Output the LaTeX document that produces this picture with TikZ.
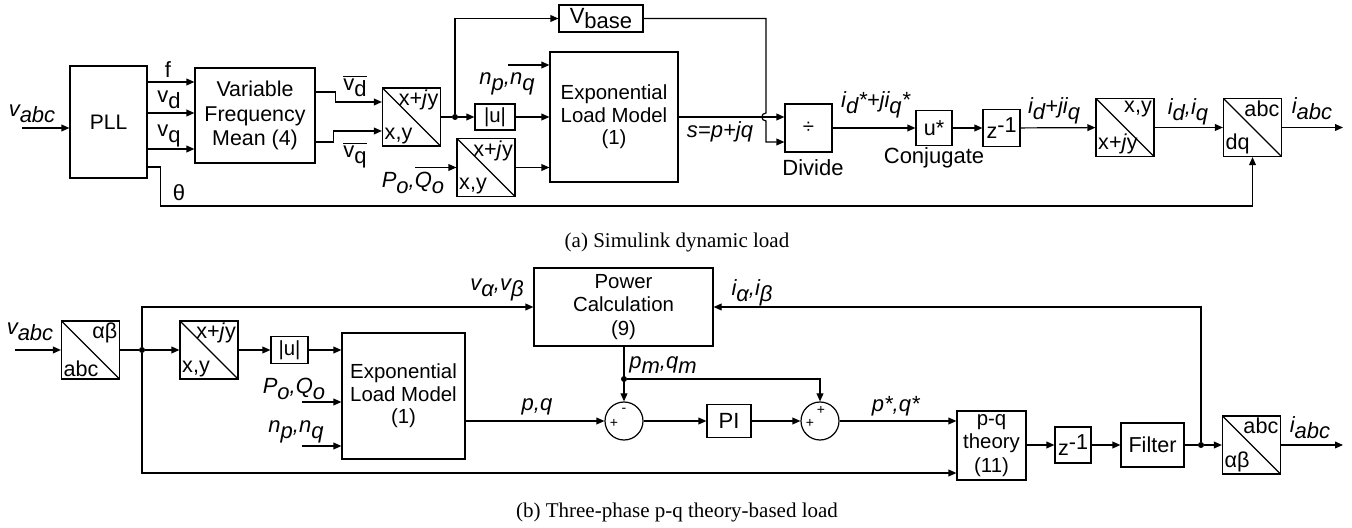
\documentclass[tikz,border=0pt]{standalone}
\usepackage{fontspec}
\setmainfont{Liberation Sans}
\newfontfamily\capfont{Liberation Serif}
\usetikzlibrary{arrows.meta,calc,positioning}
\newcommand{\sbs}[1]{\raisebox{-0.5ex}{#1}}
\newcommand{\sps}[1]{\raisebox{0.6ex}{#1}}
\tikzset{
  wire/.style  = {line width=0.6pt},
  sig/.style   = {line width=0.6pt, -{Triangle[length=4pt,width=3.4pt]}},
  blk/.style   = {draw, line width=0.6pt, rectangle, align=center, inner sep=1pt,
                  font=\fontsize{10.2}{11.2}\selectfont},
  clbl/.style  = {font=\fontsize{10.8}{11}\selectfont, inner sep=1.2pt},
  conv/.style 2 args = {draw, line width=0.6pt, rectangle, minimum size=29pt, inner sep=0pt,
                  path picture={\draw[line width=0.6pt] (path picture bounding box.north west)
                                 -- (path picture bounding box.south east);},
                  label={[clbl,anchor=north east]north east:#1},
                  label={[clbl,anchor=south west]south west:#2}},
  sumc/.style  = {draw, circle, line width=0.6pt, minimum size=19pt, inner sep=0pt},
  jdot/.style  = {circle, fill, inner sep=0pt, minimum size=3pt},
  lbl/.style   = {font=\fontsize{11}{12}\selectfont, inner sep=0pt},
  sgn/.style   = {font=\fontsize{7}{7}\selectfont, inner sep=0pt},
  caption/.style = {font=\capfont\fontsize{10.5}{12}\selectfont, inner sep=0pt},
}

\begin{document}
\begin{tikzpicture}[x=0.5pt,y=-0.5pt]
  \useasboundingbox (0,0) rectangle (1352,528);

  % ---- (a) simulink dynamic load -----------------------------------------
  \node[blk, minimum width=38.5pt, minimum height=56pt, font=\fontsize{10.5}{12}\selectfont]
    (pll) at (108.5,122) {PLL};
  \node[blk, minimum width=60pt, minimum height=47.5pt, font=\fontsize{10.7}{12.2}\selectfont]
    (vfm) at (255,115.5) {Variable\\Frequency\\Mean (4)};
  \node[conv={x+\textit{j}y}{x,y}] (cA) at (411.5,117) {};
  \node[jdot] (dA) at (455,117) {};
  \node[blk, minimum width=42pt, minimum height=13.5pt, font=\fontsize{11}{12}\selectfont]
    (vbase) at (601,18.5) {V\sbs{base}};
  \node[blk, minimum width=20pt, minimum height=13pt] (absA) at (495,117) {|u|};
  \node[blk, minimum width=64pt, minimum height=65pt] (elmA) at (614,117)
    {Exponential\\Load Model\\(1)};
  \node[conv={x+\textit{j}y}{x,y}] (cpq) at (486,167.5) {};
  \node[blk, minimum width=23.5pt, minimum height=24pt] (div) at (808.5,128) {÷};
  \node[blk, minimum width=18pt, minimum height=17.5pt, font=\fontsize{10.8}{12}\selectfont]
    (conj) at (934,128) {u*};
  \node[blk, minimum width=18.5pt, minimum height=18.5pt, font=\fontsize{10.8}{12}\selectfont]
    (zA) at (1001.5,128) {z\sps{-1}};
  \node[conv={x,y}{x+\textit{j}y}] (cxy) at (1125,127.5) {};
  \node[conv={abc}{dq}] (cdq) at (1252.5,127.5) {};

  \coordinate (vinA) at (22,128);
  \coordinate (yf) at (0,82);
  \coordinate (yvd) at (0,113);
  \coordinate (yvq) at (0,149);
  \coordinate (yth) at (0,167);
  \coordinate (npA) at (508,65);
  \coordinate (PoA) at (415,167.5);
  \coordinate (hop) at (766,117);
  \coordinate (outA) at (1343,128);

  \draw[sig] (vinA) -- (vinA -| pll.west);
  \draw[sig] (pll.east |- yf) -- (vfm.west |- yf);
  \draw[sig] (pll.east |- yvd) -- (vfm.west |- yvd);
  \draw[sig] (pll.east |- yvq) -- (vfm.west |- yvq);
  \draw[sig] ($(vfm.east)+(0,-23.5)$) -- ++(20,0) |- ($(cA.west)+(0,-15)$);
  \draw[sig] ($(vfm.east)+(0,26.5)$) -- ++(18,0) |- ($(cA.west)+(0,14)$);
  \draw[wire] (cA) -- (dA);
  \draw[sig] (dA) -- (absA);
  \draw[sig] (dA) |- (vbase);
  \draw[sig] (absA) -- (elmA);
  \draw[sig] (npA) -- (npA -| elmA.west);
  \draw[sig] (PoA) -- (cpq);
  \draw[sig] (cpq) -- (cpq -| elmA.west);
  \draw[sig] (elmA.east) -- (elmA.east -| div.west);
  \draw[sig] (vbase.east) -| ($(hop)+(0,-4)$)
    .. controls ($(hop)+(-5.5,-4)$) and ($(hop)+(-5.5,4)$) .. ($(hop)+(0,4)$)
    |- ($(div.west)+(0,14)$);
  \draw[sig] (div) -- (conj);
  \draw[sig] (conj) -- (zA);
  \draw[sig] (zA) -- (cxy);
  \draw[sig] (cxy) -- (cdq);
  \draw[sig] (cdq) -- (cdq -| outA);
  \draw[sig] (pll.east |- yth) -- ++(13,0) |- ($(cdq.south)+(0,49)$) -- (cdq.south);

  \node[lbl] (lvabcA) at (32,114) {\textit{v\sbs{abc}}};
  \node[lbl] (lf) at (168,70) {f};
  \node[lbl] (lvd) at (169,100) {v\sbs{d}};
  \node[lbl] (lvq) at (169,136) {v\sbs{q}};
  \node[lbl] (lvdm) at (355,86) {$\overline{\hbox{v\sbs{d}}}$};
  \node[lbl] (lvqm) at (355,155) {$\overline{\hbox{v\sbs{q}}}$};
  \node[lbl] (lth) at (179,193) {θ};
  \node[lbl] (lnpA) at (507,84) {\textit{n\sbs{p},n\sbs{q}}};
  \node[lbl] (lPoA) at (413,183) {\textit{P\sbs{o},Q\sbs{o}}};
  \node[lbl] (ls) at (720,132) {\textit{s=p+jq}};
  \node[lbl] (ldiv) at (813,168) {Divide};
  \node[lbl] (lidq) at (876,105) {\textit{i\sbs{d}*+ji\sbs{q}*}};
  \node[lbl] (lconj) at (934,158) {Conjugate};
  \node[lbl] (lidjq) at (1054,111) {\textit{i\sbs{d}+ji\sbs{q}}};
  \node[lbl] (lidiq) at (1188,112) {\textit{i\sbs{d},i\sbs{q}}};
  \node[lbl] (liabcA) at (1312,109) {\textit{i\sbs{abc}}};

  \node[caption] (capA) at (677,242) {(a) Simulink dynamic load};

  % ---- (b) p-q theory based load -----------------------------------------
  \node[conv={αβ}{abc}] (cab) at (90.5,350) {};
  \node[jdot] (dB) at (142,350) {};
  \node[conv={x+\textit{j}y}{x,y}] (cB) at (209,350) {};
  \node[blk, minimum width=18.5pt, minimum height=13.5pt] (absB) at (289.5,350) {|u|};
  \node[blk, minimum width=61.5pt, minimum height=63pt] (elmB) at (403.5,396)
    {Exponential\\Load Model\\(1)};
  \node[blk, minimum width=89.5pt, minimum height=39pt, font=\fontsize{10.2}{11.7}\selectfont]
    (pc) at (623.5,307) {Power\\Calculation\\(9)};
  \node[sumc] (s1) at (624,421) {};
  \node[blk, minimum width=22pt, minimum height=16.5pt, font=\fontsize{11}{12}\selectfont]
    (pi) at (729,421) {PI};
  \node[sumc] (s2) at (820,421) {};
  \node[blk, minimum width=34.5pt, minimum height=34.5pt, font=\fontsize{10.2}{11.7}\selectfont]
    (pq) at (991.5,445.5) {p-q\\theory\\(11)};
  \node[blk, minimum width=18pt, minimum height=18pt, font=\fontsize{10.8}{12}\selectfont]
    (zB) at (1073,445) {z\sps{-1}};
  \node[blk, minimum width=31.5pt, minimum height=22pt, font=\fontsize{10.8}{12}\selectfont]
    (filt) at (1152.5,445) {Filter};
  \node[jdot] (dC) at (1201,445) {};
  \node[conv={abc}{αβ}] (cab2) at (1251.5,445) {};
  \node[jdot] (dD) at (624,379) {};

  \coordinate (vinB) at (15,350);
  \coordinate (PoB) at (302,402);
  \coordinate (npB) at (302,446);
  \coordinate (outB) at (1343,445);

  \draw[sig] (vinB) -- (cab);
  \draw[wire] (cab) -- (dB);
  \draw[sig] (dB) -- (cB);
  \draw[sig] (cB) -- (absB);
  \draw[sig] (absB) -- (absB -| elmB.west);
  \draw[sig] (PoB) -- (PoB -| elmB.west);
  \draw[sig] (npB) -- (npB -| elmB.west);
  \draw[sig] (dB) |- (pc.west);
  \draw[sig] (dB) |- ($(pq.west)+(0,27.5)$);
  \draw[sig] (elmB.east |- s1) -- (s1.west);
  \draw[sig] (pc.south -| s1) -- (s1.north);
  \draw[sig] (dD) -| (s2.north);
  \draw[sig] (s1) -- (pi);
  \draw[sig] (pi) -- (s2);
  \draw[sig] (s2.east) -- (s2.east -| pq.west);
  \draw[sig] (pq.east |- zB) -- (zB);
  \draw[sig] (zB) -- (filt);
  \draw[wire] (filt) -- (dC);
  \draw[sig] (dC) -- (cab2);
  \draw[sig] (dC) |- (pc.east);
  \draw[sig] (cab2) -- (outB);

  \node[sgn] (s1a) at ($(s1)+(-10,2)$) {+};
  \node[sgn] (s1b) at ($(s1)+(0,-11)$) {-};
  \node[sgn] (s2a) at ($(s2)+(-10,2)$) {+};
  \node[sgn] (s2b) at ($(s2)+(1,-11)$) {+};

  \node[lbl] (lvabcB) at (30,332) {\textit{v\sbs{abc}}};
  \node[lbl] (lvab) at (497,290) {\textit{v\sbs{α},v\sbs{β}}};
  \node[lbl] (liab) at (752,293) {\textit{i\sbs{α},i\sbs{β}}};
  \node[lbl] (lpm) at (663,365) {\textit{p\sbs{m},q\sbs{m}}};
  \node[lbl] (lpq) at (537,407) {\textit{p,q}};
  \node[lbl] (lps) at (896,406) {\textit{p*,q*}};
  \node[lbl] (lPoB) at (294,389) {\textit{P\sbs{o},Q\sbs{o}}};
  \node[lbl] (lnpB) at (296,432) {\textit{n\sbs{p},n\sbs{q}}};
  \node[lbl] (liabcB) at (1310,428) {\textit{i\sbs{abc}}};

  \node[caption] (capB) at (677,512) {(b) Three-phase p-q theory-based load};
\end{tikzpicture}
\end{document}
